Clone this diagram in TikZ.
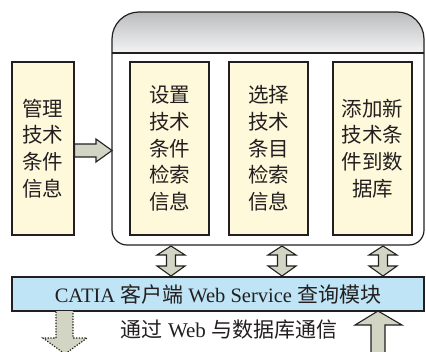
\documentclass[tikz,border=0pt]{standalone}
\usepackage{fontspec}
\setmainfont{Liberation Serif}
\newfontfamily\cjk{Noto Sans CJK SC}
\definecolor{ink}{RGB}{35,31,32}
\definecolor{boxyellow}{RGB}{255,249,219}
\definecolor{barblue}{RGB}{190,228,245}
\definecolor{arrowfill}{RGB}{210,213,196}
\definecolor{headtop}{RGB}{186,188,190}
\definecolor{headbot}{RGB}{244,244,244}
\tikzset{
  ybox/.style={draw=ink, line width=1.2pt, fill=boxyellow, text=ink, align=center,
    minimum height=173pt, inner sep=0pt,
    font=\cjk\fontsize{20.5}{26.7}\selectfont},
  blk/.style={draw=ink, line width=1.1pt, fill=arrowfill, line join=miter},
  outline/.style={draw=ink, line width=1.2pt},
}
\begin{document}
\begin{tikzpicture}[x=1pt,y=-1pt]
\useasboundingbox (0,0) rectangle (426,351);
\clip (0,0) rectangle (426,351);
% container header
\path[top color=headtop, bottom color=headbot]
  (112,53) -- (112,39) .. controls (112,24.1) and (124.1,12) .. (139,12)
  -- (397,12) .. controls (411.9,12) and (424,24.1) .. (424,39) -- (424,53) -- cycle;
\draw[outline]
  (112,53) -- (112,39) .. controls (112,24.1) and (124.1,12) .. (139,12)
  -- (397,12) .. controls (411.9,12) and (424,24.1) .. (424,39) -- (424,53);
\draw[outline] (112,53) -- (424,53);
% container body
\draw[outline]
  (112,53) -- (112,230) .. controls (112,238.3) and (118.7,245) .. (127,245)
  -- (409,245) .. controls (417.3,245) and (424,238.3) .. (424,230) -- (424,53);
% boxes
\node[ybox, minimum width=62pt] (L) at (43,148.5) {管理\\技术\\条件\\信息};
\node[ybox, minimum width=79pt] (B1) at (169.5,148.5) {设置\\技术\\条件\\检索\\信息};
\node[ybox, minimum width=79pt] (B2) at (268.5,148.5) {选择\\技术\\条目\\检索\\信息};
\node[ybox, minimum width=79pt] (B3) at (372.5,148.5) {添加新\\技术条\\件到数\\据库};
\node[draw=ink, line width=1.2pt, fill=barblue, text=ink, minimum width=412pt, minimum height=34pt,
  inner sep=0pt, font=\fontsize{20.5}{24}\selectfont] (bar) at (218,294)
  {CATIA {\cjk\fontsize{21}{24}\selectfont 客户端} Web Service {\cjk\fontsize{21}{24}\selectfont 查询模块}};
\node[text=ink, inner sep=0pt, font=\fontsize{21}{24}\selectfont] (lbl) at (229,330)
  {{\cjk 通过} Web {\cjk 与数据库通信}};
% arrow from left box into container
\coordinate (ltip) at (112,150.5);
\draw[blk] (L.east |- 0,144) -- (96,144) -- (96,139) -- (ltip) -- (96,162) -- (96,157) -- (L.east |- 0,157) -- cycle;
% double arrows between container and bar
\foreach \c/\n in {171/a,282/b,383/c}{
  \coordinate (t\n) at (\c,246);
  \coordinate (s\n) at (\c,276);
  \draw[blk] (t\n) -- ++(14,9) -- ++(-9.5,0) -- ++(0,11) -- ++(9.5,0) -- (s\n)
    -- ++(-14,-10) -- ++(9.5,0) -- ++(0,-11) -- ++(-9.5,0) -- cycle;
}
% dotted arrow down
\coordinate (dtip) at (65,354);
\fill[arrowfill] (56,311) -- (56,338) -- (43,338) -- (dtip) -- (87,338) -- (73,338) -- (73,311) -- cycle;
\draw[ink, line width=1.2pt, dash pattern=on 1.3pt off 1.5pt]
  (56,311.5) -- (56,338) -- (43,338) -- (dtip) -- (87,338) -- (73,338) -- (73,311.5);
% solid arrow up
\coordinate (utip) at (378,311);
\fill[arrowfill] (371,356) -- (371,325) -- (355,325) -- (utip) -- (402,325) -- (385,325) -- (385,356) -- cycle;
\draw[ink, line width=1.1pt, line join=miter]
  (371,356) -- (371,325) -- (355,325) -- (utip) -- (402,325) -- (385,325) -- (385,356);
\end{tikzpicture}
\end{document}
